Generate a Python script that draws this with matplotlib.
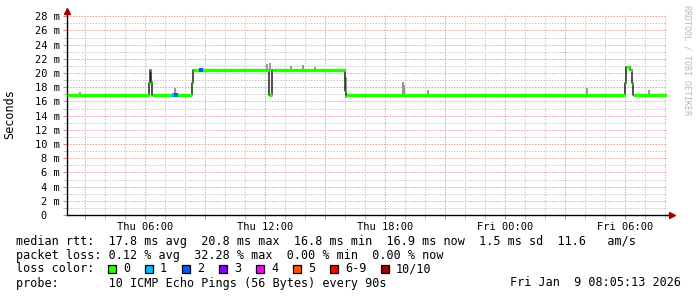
import matplotlib
matplotlib.use('Agg')
from matplotlib import pyplot as plt
from matplotlib.patches import Rectangle

# median rtt (ms): step breakpoints in hours since Thu 00:00, value per interval
med_t = [2.09, 6.21, 6.26, 6.31, 6.36, 8.36, 8.41, 12.21, 12.36, 16.01, 16.06,
         30.01, 30.06, 30.26, 30.33, 30.38, 32.09]
med_v = [16.9, 18.6, 20.4, 18.8, 16.9, 18.6, 20.4, 16.9, 20.4, 17.5, 16.9,
         18.6, 20.8, 20.4, 18.6, 16.9]

# smoke (spread of pings) at a few spots
smoke_t = [2.74, 7.49, 12.09, 12.25, 13.29, 13.89, 14.5, 16.05, 18.87, 18.95, 20.14, 28.07, 31.19]
smoke_lo = [16.9, 16.9, 20.4, 20.4, 20.4, 20.4, 20.4, 16.5, 16.9, 16.9, 16.9, 16.9, 16.9]
smoke_hi = [17.3, 17.9, 21.3, 21.4, 21.0, 21.1, 20.9, 19.5, 18.8, 18.3, 17.6, 17.9, 17.6]

# a few samples with some packet loss
loss_t = [7.46, 7.52, 8.79]
loss_v = [16.9, 16.9, 20.4]
loss_level = [1, 2, 2]

loss_labels = ['0', '1', '2', '3', '4', '5', '6-9', '10/10']
loss_colors = ['#26ff00', '#00b8ff', '#0059ff', '#7e00ff', '#ff00ff', '#ff5500', '#ff0000', '#a10000']

x_start, x_end = 2.087, 32.087
xlabel_pos = [6, 12, 18, 24, 30]
xlabel_txt = ['Thu 06:00', 'Thu 12:00', 'Thu 18:00', 'Fri 00:00', 'Fri 06:00']

rtt_line = 'median rtt:  17.8 ms avg  20.8 ms max  16.8 ms min  16.9 ms now  1.5 ms sd  11.6   am/s'
loss_line = 'packet loss: 0.12 % avg  32.28 % max  0.00 % min  0.00 % now'
probe_line = 'probe:       10 ICMP Echo Pings (56 Bytes) every 90s'
stamp = 'Fri Jan  9 08:05:13 2026'

W, H = 697, 297
mono = 'DejaVu Sans Mono'
plt.rcParams['font.family'] = mono

fig = plt.figure(figsize=(W / 100, H / 100), dpi=100)
ax = fig.add_axes([67 / W, 1 - 215 / H, 600 / W, 200 / H])
ax.set_xlim(x_start, x_end)
ax.set_ylim(0, 28.17)

# grid
dots = (0, (1.4, 1.4))
ax.set_yticks(range(0, 29, 2))
ax.set_yticks(range(0, 29, 1), minor=True)
ax.set_yticklabels(['%d m' % v if v else '0  ' for v in range(0, 29, 2)], fontsize=7.5)
ax.set_xticks(range(3, 33, 3))
ax.set_xticks(range(3, 33, 1), minor=True)
ax.set_xticklabels([''] * 10)
ax.grid(which='minor', color='#c8c8c8', linestyle=dots, lw=0.72)
ax.grid(which='major', color='#eba0a0', linestyle=dots, lw=0.72)
ax.set_axisbelow(True)
ax.tick_params(which='both', direction='out', length=3, width=0.7, pad=2)
ax.tick_params(which='major', color='#e08080')
ax.tick_params(which='minor', color='#c0c0c0')
for x, s in zip(xlabel_pos, xlabel_txt):
    ax.text(x, -0.035, s, transform=ax.get_xaxis_transform(), ha='center', va='top', fontsize=7.5)

for s in ['top', 'right']:
    ax.spines[s].set_visible(False)
ax.spines['left'].set_linewidth(1)
ax.spines['bottom'].set_linewidth(1)
ax.plot([1, 1.008], [0, 0], color='black', lw=1, transform=ax.transAxes, clip_on=False)
ax.plot([1.008], [0], marker='>', color='#a00000', ms=4, transform=ax.transAxes, clip_on=False)
ax.plot([0], [1.02], marker='^', color='#a00000', ms=4, transform=ax.transAxes, clip_on=False)

# smoke
ax.vlines(smoke_t, smoke_lo, smoke_hi, color='#909090', lw=1.3, zorder=2)

# median line: black steps + loss coloured bars
ax.step(med_t, med_v + [med_v[-1]], where='post', color='#202020', lw=1.1, zorder=3)
ax.hlines(med_v, med_t[:-1], med_t[1:], color=loss_colors[0], lw=2.5, zorder=4)
for t, v, lv in zip(loss_t, loss_v, loss_level):
    ax.plot([t], [v], marker='s', ms=2.3, mew=0, color=loss_colors[lv], zorder=5)


def ftext(x, y, s, **kw):
    kw.setdefault('fontsize', 8.5)
    kw.setdefault('va', 'center')
    fig.text(x / W, 1 - y / H, s, **kw)


ftext(10, 114, 'Seconds', rotation=90, ha='center')
ftext(687, 60, 'RRDTOOL / TOBI OETIKER', rotation=-90, ha='center', color='#b8b8b8', fontsize=6)

ftext(16, 241, rtt_line)
ftext(16, 255, loss_line)

ftext(16, 269, 'loss color:')
bx = [108, 145, 182, 219, 256, 293, 330, 381]
for x, lab, c in zip(bx, loss_labels, loss_colors):
    fig.add_artist(Rectangle((x / W, 1 - 273 / H), 8 / W, 8 / H, facecolor=c,
                             edgecolor='black', lw=0.9, transform=fig.transFigure))
    ftext(x + 15, 269, lab)

ftext(16, 283, probe_line)
ftext(681, 283, stamp, ha='right')

fig.savefig('out.png', dpi=100)
